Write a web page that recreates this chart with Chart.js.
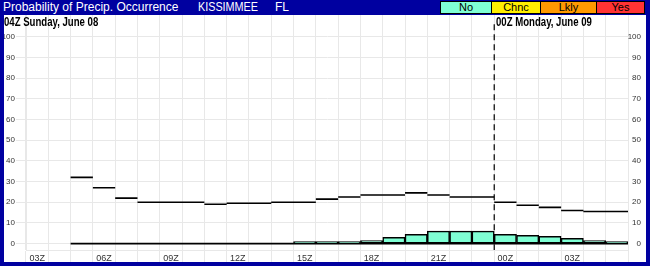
<!DOCTYPE html>
<html>
<head>
<meta charset="utf-8">
<script src="https://cdn.jsdelivr.net/npm/chart.js@4/dist/chart.umd.min.js"></script>
<style>
  body { margin: 0; }
  #frame { position: relative; width: 650px; height: 266px; background: #0000a0; overflow: hidden;
           font-family: "Liberation Sans", Arial, sans-serif; }
  #plot { position: absolute; left: 4px; top: 15px; width: 642px; height: 247px; background: #fff; }
  .hdr { position: absolute; top: 0; color: #fff; font-size: 12px; line-height: 15px; white-space: nowrap;
         transform-origin: left center; }
  .key { position: absolute; top: 1px; height: 13px; box-sizing: border-box; border: 1px solid #000;
         font-size: 11px; line-height: 11px; text-align: center; color: #000; }
  .day { position: absolute; top: 15px; font: bold 12px "Liberation Sans", Arial, sans-serif;
         color: #000; white-space: nowrap; transform: scaleX(0.8); transform-origin: left top; }
</style>
</head>
<body>
<div id="frame">
  <div class="hdr" style="left:3px">Probability of Precip. Occurrence</div>
  <div class="hdr" style="left:198px;transform:scaleX(0.9)">KISSIMMEE</div>
  <div class="hdr" style="left:275px">FL</div>
  <div class="key" style="left:440px;width:52px;background:#7fffd4">No</div>
  <div class="key" style="left:491px;width:50px;background:#ffee00">Chnc</div>
  <div class="key" style="left:540px;width:57px;background:#ff9900">Lkly</div>
  <div class="key" style="left:596px;width:49px;background:#ff3333">Yes</div>
  <div id="plot"><canvas id="chart" width="642" height="247"></canvas></div>
  <div class="day" style="left:4px">04Z Sunday, June 08</div>
  <div class="day" style="left:496px">00Z Monday, June 09</div>
</div>
<script>
const getEl = (id) => document.getElementById(id)

// hourly slots, 03Z Sunday through 05Z Monday
const hours = ['03Z', '04Z', '05Z', '06Z', '07Z', '08Z', '09Z', '10Z', '11Z', '12Z', '13Z', '14Z',
               '15Z', '16Z', '17Z', '18Z', '19Z', '20Z', '21Z', '22Z', '23Z',
               '00Z', '01Z', '02Z', '03Z', '04Z', '05Z']
// black step line
const pop = [null, null, 32, 27, 22, 20, 20, 20, 19, 19.5, 19.5, 20, 20, 21.5, 22.5,
             23.5, 23.5, 24.5, 23.5, 22.5, 22.5, 20, 18.5, 17.5, 16, 15.5, 15.5]
// cyan bars ("No" category)
const occ = [null, null, 0, 0, 0, 0, 0, 0, 0, 0, 0, 0, 1, 1, 1,
             1.5, 3, 4.5, 6, 6, 6, 4.5, 4, 3.5, 2.5, 1.5, 1]
const dayBreak = hours.indexOf('00Z')
const yTicks = [0, 10, 20, 30, 40, 50, 60, 70, 80, 90, 100]

const yMin = -3.1
const yMax = 110.5
const gridColor = '#e8e8e8'

// each slot gets its own flat segment, no risers between them
const toSegments = (arr, fn) => {
    let out = []
    arr.forEach((v, i) => {
        if (v === null) return
        out.push({ x: i, y: fn(v) }, { x: i + 1, y: fn(v) }, { x: i + 1, y: null })
    })
    return out
}
let steps = toSegments(pop, v => v)
let base = toSegments(occ, v => 0)   // bottom edge of the bar row, also shows zero hours

Chart.defaults.font.family = '"Liberation Sans", Arial, sans-serif'
Chart.defaults.color = '#333'

const setTicks = (scale) => { scale.ticks = yTicks.map(v => ({ value: v })) }
const noPad = (s) => { s.paddingTop = 0; s.paddingBottom = 0; s.paddingLeft = 0; s.paddingRight = 0 }

new Chart(getEl('chart').getContext('2d'), {
    type: 'bar',
    data: {
        labels: hours,
        datasets: [
            {
                type: 'line',
                data: steps,
                xAxisID: 'xs',
                borderColor: '#000',
                borderWidth: 1.6,
                pointRadius: 0,
                spanGaps: false,
                order: 0
            },
            {
                type: 'line',
                data: base,
                xAxisID: 'xs',
                borderColor: '#000',
                borderWidth: 1.6,
                pointRadius: 0,
                spanGaps: false,
                order: 1
            },
            {
                type: 'line',
                data: [{ x: dayBreak, y: 106 }, { x: dayBreak, y: yMin }],
                xAxisID: 'xs',
                borderColor: '#000',
                borderWidth: 1.2,
                borderDash: [6, 4],
                pointRadius: 0,
                order: 2
            },
            {
                data: occ,
                backgroundColor: '#7fffd4',
                borderColor: '#000',
                borderWidth: 1.5,
                borderSkipped: false,
                grouped: false,
                barPercentage: 1,
                categoryPercentage: 1,
                order: 3
            }
        ]
    },
    options: {
        responsive: false,
        animation: false,
        layout: { padding: { left: 0, top: 0, bottom: 0, right: 5 } },
        plugins: { legend: { display: false }, tooltip: { enabled: false } },
        scales: {
            x: {
                offset: true,
                grid: { color: gridColor, offset: true, tickLength: 12 },
                border: { color: gridColor },
                ticks: {
                    autoSkip: false, maxRotation: 0, padding: -9,
                    font: { size: 9 },
                    callback: (v, i) => (i % 3 === 0 ? hours[i] : '')
                },
                afterFit: (s) => { s.height = 12; noPad(s) }
            },
            xs: { type: 'linear', display: false, offset: false, min: 0, max: hours.length },
            y: {
                position: 'left', min: yMin, max: yMax,
                afterBuildTicks: setTicks,
                grid: { color: gridColor, tickLength: 10 },
                border: { color: gridColor },
                ticks: { padding: 1, font: { size: 8 } },
                afterFit: (s) => { s.width = 22; noPad(s) }
            },
            y2: {
                position: 'right', min: yMin, max: yMax,
                afterBuildTicks: setTicks,
                grid: { display: false },
                border: { display: false },
                ticks: { padding: 0, crossAlign: 'far', font: { size: 8 } },
                afterFit: (s) => { s.width = 13; noPad(s) }
            }
        }
    }
})
</script>
</body>
</html>
